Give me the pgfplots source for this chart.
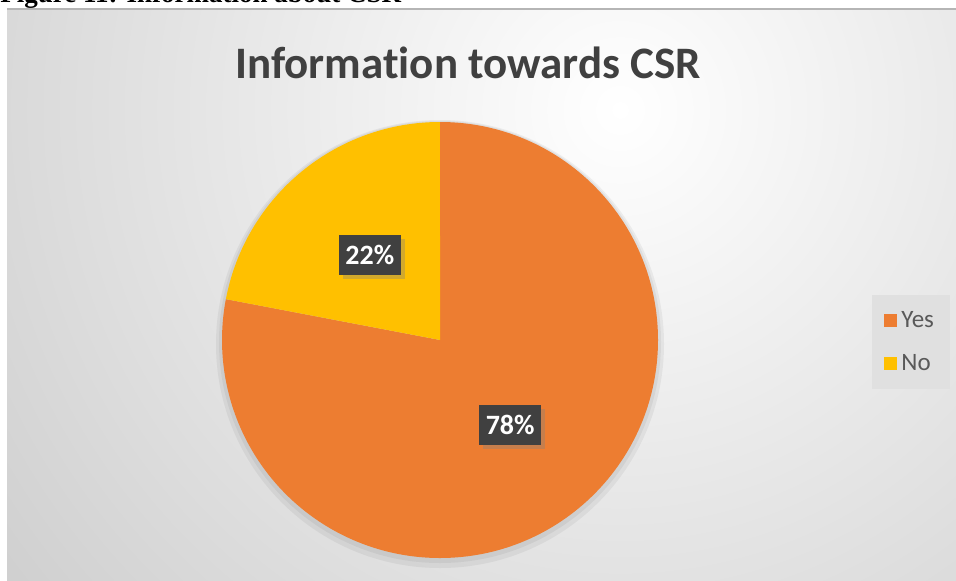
\documentclass[border=0pt]{standalone}
\usepackage{pgfplots}
\pgfplotsset{compat=1.18}
\usepackage{pgfplotstable}
\usepackage{fontspec}
\setmainfont{Carlito}[Ligatures=NoCommon]
\newfontfamily\headfont{Liberation Serif}
\usetikzlibrary{shadows}

\definecolor{cyes}{HTML}{ED7D31}
\definecolor{cno}{HTML}{FFC000}
\definecolor{ctitle}{HTML}{404040}
\definecolor{clegtext}{HTML}{595959}
\definecolor{cpanel}{HTML}{BFBFBF}
\definecolor{cborder}{HTML}{B5B5B5}
\definecolor{clegbg}{HTML}{E0E0E0}
\definecolor{clabel}{HTML}{404040}

% share of answers
\pgfplotstableread{
label value
Yes 78
No 22
}\piedata

\begin{document}
\begin{tikzpicture}
\pgfplotstablegetelem{0}{value}\of\piedata \let\vyes\pgfplotsretval
\pgfplotstablegetelem{1}{value}\of\piedata \let\vno\pgfplotsretval
\pgfmathsetmacro\total{\vyes+\vno}
% slices run clockwise from 12 o'clock
\pgfmathsetmacro\ayes{90-\vyes/\total*360}
\pgfmathsetmacro\myes{90-\vyes/\total*180}
\pgfmathsetmacro\mno{\ayes-\vno/\total*180}
\pgfmathsetmacro\ano{\ayes-\vno/\total*360}
\def\R{109pt}

\begin{axis}[
    name=ax,
    x=0.5pt, y=0.5pt,
    xmin=0, xmax=956, ymin=0, ymax=580,
    hide axis,
    clip=false,
    legend style={
        at={(0.9121,0.4914)}, anchor=north west,
        draw=none, fill=clegbg,
        font=\fontsize{12.5}{14}\selectfont,
        text=clegtext,
        inner xsep=6pt, inner ysep=6pt,
        row sep=8pt,
        cells={anchor=west},
        /tikz/every even column/.append style={column sep=4pt},
    },
    legend image code/.code={
        \fill[#1] (0pt,-3.25pt) rectangle (6.5pt,3.25pt);
    },
]
% background panel
\fill[cpanel] (axis cs:7,0) rectangle (axis cs:956,571);
\begin{scope}
  \clip (axis cs:7,0) rectangle (axis cs:956,571);
  \shade[inner color=white, outer color=cpanel] (axis cs:620,470) circle (520pt);
\end{scope}
\draw[cborder, line width=1pt] (axis cs:7,571) -- (axis cs:956,571);

% caption above the panel, cut by the frame
\begin{scope}
  \clip (axis cs:0,0) rectangle (axis cs:956,580);
  \node[anchor=base west, inner sep=0pt, font=\headfont\bfseries\fontsize{13.5}{16}\selectfont]
    at (axis cs:0,577) {Figure 11: Information about CSR};
\end{scope}

\node[anchor=base, inner sep=0pt, text=ctitle, font=\bfseries\fontsize{22.5}{27}\selectfont]
  at (axis cs:468,502) {Information towards CSR};

% soft shadow of the pie
\fill[black, opacity=0.05] (axis cs:440,236) circle (112pt);
\fill[black, opacity=0.05] (axis cs:440,238) circle (110.5pt);

% slices
\fill[cyes] (axis cs:440,240) -- ++(90:\R) arc[start angle=90, end angle=\ayes, radius=\R] -- cycle;
\fill[cno] (axis cs:440,240) -- ++(\ayes:\R) arc[start angle=\ayes, end angle=\ano, radius=\R] -- cycle;

% data labels
\path (axis cs:440,240) ++(\mno:0.505*\R) node[fill=clabel, text=white,
    font=\bfseries\fontsize{14}{16}\selectfont, minimum width=31pt, minimum height=20pt,
    inner sep=0pt, drop shadow={opacity=0.35, shadow xshift=2pt, shadow yshift=-2pt}] {\vno\%};
\path (axis cs:440,240) ++(\myes:0.505*\R) node[fill=clabel, text=white,
    font=\bfseries\fontsize{14}{16}\selectfont, minimum width=31pt, minimum height=20pt,
    inner sep=0pt, drop shadow={opacity=0.35, shadow xshift=2pt, shadow yshift=-2pt}] {\vyes\%};

\addlegendimage{fill=cyes, draw=none}
\addlegendentry{Yes}
\addlegendimage{fill=cno, draw=none}
\addlegendentry{No}
\end{axis}
\pgfresetboundingbox
\path[use as bounding box] (ax.south west) rectangle (ax.north east);
\end{tikzpicture}
\end{document}
